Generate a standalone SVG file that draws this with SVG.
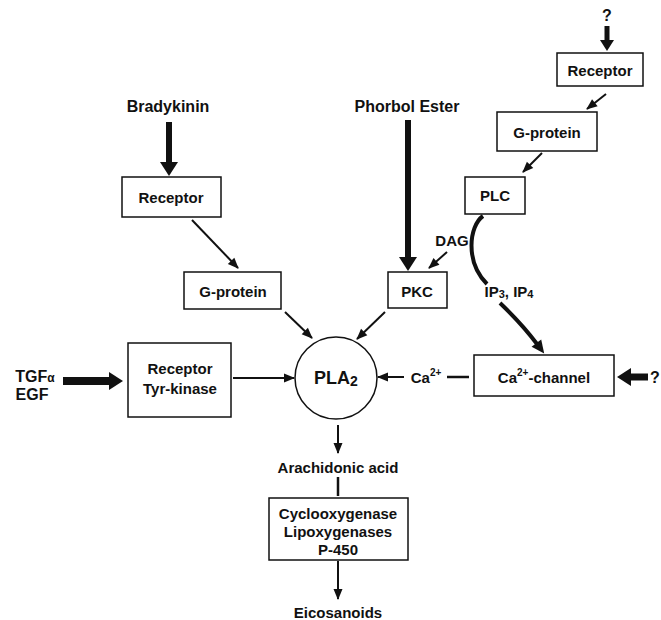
<svg xmlns="http://www.w3.org/2000/svg" width="661" height="620" viewBox="0 0 661 620">
<style>
text{font-family:"Liberation Sans",Arial,sans-serif;font-weight:bold;font-size:15px;fill:#111;text-anchor:middle;dominant-baseline:central}
.big{font-size:16px}
.box{fill:#fff;stroke:#111;stroke-width:1.5}
.thin{stroke:#111;stroke-width:2;fill:none;marker-end:url(#ah)}
.thick{stroke:#111;stroke-width:6;fill:none;marker-end:url(#ahT)}
.mid{stroke:#111;stroke-width:4;fill:none}
</style>
<defs>
<marker id="ah" markerUnits="userSpaceOnUse" markerWidth="11" markerHeight="9" refX="10" refY="4.5" orient="auto" overflow="visible"><path d="M0,0 L11,4.5 L0,9 z" fill="#111"/></marker>
<marker id="ahM" markerUnits="userSpaceOnUse" markerWidth="13" markerHeight="12" refX="1" refY="6" orient="auto" overflow="visible"><path d="M0,0 L13,6 L0,12 z" fill="#111"/></marker>
<marker id="ahT" markerUnits="userSpaceOnUse" markerWidth="14" markerHeight="18" refX="1" refY="9" orient="auto" overflow="visible"><path d="M0,0 L14,9 L0,18 z" fill="#111"/></marker>
<marker id="ahS" markerUnits="userSpaceOnUse" markerWidth="11" markerHeight="14" refX="1" refY="7" orient="auto" overflow="visible"><path d="M0,0 L11,7 L0,14 z" fill="#111"/></marker>
</defs>

<g id="connectors">
<line x1="607" y1="26" x2="607" y2="41" stroke="#111" stroke-width="5" marker-end="url(#ahS)"/>
<line class="thin" x1="606" y1="94" x2="587" y2="109"/>
<line class="thin" x1="542" y1="153" x2="523" y2="172"/>
<line class="thick" x1="169" y1="122" x2="169" y2="163"/>
<line class="thin" x1="192" y1="220" x2="238" y2="268"/>
<line class="thin" x1="285" y1="312" x2="312" y2="338"/>
<line class="thick" x1="408" y1="120" x2="408" y2="258"/>
<line class="thin" x1="447" y1="252" x2="429" y2="268"/>
<line class="thin" x1="385" y1="312" x2="357" y2="339"/>
<path class="mid" d="M483,216 C469,226 465,262 487,284"/>
<path class="mid" d="M500,303 Q522,324 537,344" marker-end="url(#ahM)"/>
<line class="thick" x1="63" y1="381" x2="110" y2="381" style="stroke-width:8"/>
<line class="thin" x1="233" y1="378" x2="294" y2="378"/>
<line x1="469" y1="377" x2="447" y2="377" stroke="#111" stroke-width="2.5"/>
<line class="thin" x1="404" y1="377" x2="378" y2="377"/>
<line class="thick" x1="648" y1="377" x2="630" y2="377" style="stroke-width:7"/>
<line class="thin" x1="338" y1="425" x2="338" y2="453"/>
<line x1="338" y1="477" x2="338" y2="496" stroke="#111" stroke-width="2.5"/>
<line class="thin" x1="338" y1="561" x2="338" y2="599"/>
</g>

<g id="q-top"><text x="607" y="15" class="big">?</text></g>
<g id="receptor-r"><rect class="box" x="557" y="53" width="86" height="33"/><text x="600" y="70">Receptor</text></g>
<g id="gprotein-r"><rect class="box" x="497" y="112" width="100" height="39"/><text x="547" y="132">G-protein</text></g>
<g id="plc"><rect class="box" x="465" y="177" width="60" height="37"/><text x="495" y="195">PLC</text></g>
<g id="dag"><text x="452" y="240">DAG</text></g>
<g id="ip"><text x="509" y="291">IP<tspan font-size="11" dy="3">3</tspan><tspan dy="-3">, IP</tspan><tspan font-size="11" dy="3">4</tspan></text></g>

<g id="bradykinin"><text x="168" y="106" class="big">Bradykinin</text></g>
<g id="receptor-l"><rect class="box" x="122" y="177" width="99" height="40"/><text x="171" y="197">Receptor</text></g>
<g id="gprotein-l"><rect class="box" x="184" y="272" width="97" height="37"/><text x="233" y="291">G-protein</text></g>

<g id="phorbol"><text x="407" y="106" class="big">Phorbol Ester</text></g>
<g id="pkc"><rect class="box" x="388" y="272" width="59" height="36"/><text x="417" y="291">PKC</text></g>

<g id="tgf"><text x="35" y="376" style="font-size:16px">TGF<tspan font-size="12" dy="2">α</tspan></text><text x="32" y="394" style="font-size:16px">EGF</text></g>
<g id="receptor-tyr"><rect class="box" x="128" y="343" width="103" height="74"/><text x="180" y="368">Receptor</text><text x="180" y="388">Tyr-kinase</text></g>

<g id="pla2"><circle cx="336" cy="378" r="41" fill="#fff" stroke="#111" stroke-width="1.5"/><text x="336" y="378" style="font-size:18px">PLA<tspan font-size="14" dy="3">2</tspan></text></g>
<g id="ca"><text x="426" y="377">Ca<tspan font-size="10" dy="-5">2+</tspan></text></g>
<g id="ca-channel"><rect class="box" x="474" y="355" width="140" height="41"/><text x="544" y="377">Ca<tspan font-size="10" dy="-5">2+</tspan><tspan dy="5">-channel</tspan></text></g>
<g id="q-right"><text x="655" y="377" class="big">?</text></g>

<g id="arachidonic"><text x="338" y="467">Arachidonic acid</text></g>
<g id="enzymes"><rect class="box" x="269" y="498" width="139" height="62"/><text x="338" y="513">Cyclooxygenase</text><text x="338" y="531">Lipoxygenases</text><text x="338" y="549">P-450</text></g>
<g id="eicosanoids"><text x="338" y="612">Eicosanoids</text></g>
</svg>
